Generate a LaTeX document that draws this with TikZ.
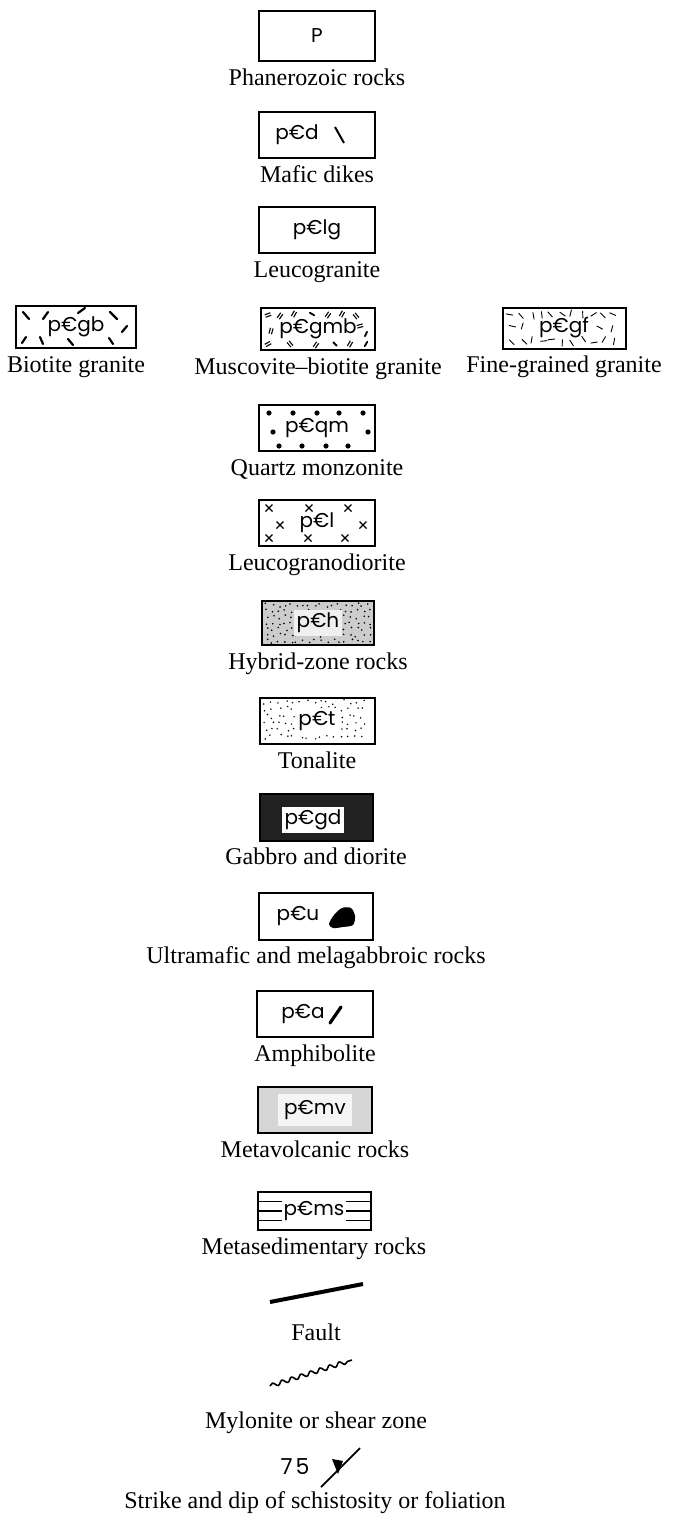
\documentclass[tikz,border=0pt]{standalone}
\usepackage{fontspec}
\setmainfont{Liberation Serif}
\newfontfamily\unitfont{Poppins}
\usepackage{tikz}
\usetikzlibrary{positioning, decorations.pathmorphing}
\definecolor{gabbrogray}{gray}{0.13}
\definecolor{hybridgray}{gray}{0.80}
\definecolor{volcgray}{gray}{0.84}
\tikzset{
  unitbox/.style={draw, line width=1pt, minimum width=58pt, minimum height=23pt,
    inner sep=0pt, font=\unitfont\fontsize{10}{11}\selectfont},
  unittext/.style={inner sep=1.5pt, font=\unitfont\fontsize{10}{11}\selectfont},
  caption/.style={inner sep=0pt, text height=8.5pt, text depth=2.5pt,
    font=\fontsize{12}{14}\selectfont},
  grain/.style={line width=1.1pt, line cap=round},
  flake/.style={line width=0.45pt},
  pair/.style={line width=0.55pt},
  faultline/.style={line width=2pt},
  shearline/.style={line width=0.8pt, decorate,
    decoration={snake, segment length=5pt, amplitude=1pt}}
}

\begin{document}
\begin{tikzpicture}[x=0.5pt, y=-0.5pt, node distance=3pt]
  \useasboundingbox (0,0) rectangle (673,1516);

  % === Phanerozoic and dikes ===
  \node[unitbox, minimum height=25pt] (phan) at (317,36) {P};
  \node[caption, below=of phan] (phancap) {Phanerozoic rocks};

  \node[unitbox] (dike) at (317,135) {p€d\kern20pt};
  \node[caption, below=of dike] (dikecap) {Mafic dikes};
  \draw[line width=1pt] (335,127) -- (344,143);

  \node[unitbox] (lgr) at (317,230) {p€lg};
  \node[caption, below=of lgr] (lgrcap) {Leucogranite};

  % === Granites ===
  \node[unitbox, minimum width=60pt, minimum height=21pt] (bgr) at (76,327) {p€gb};
  \node[caption, below=of bgr] (bgrcap) {Biotite granite};
  \begin{scope}[shift={(bgr.center)}]
    \foreach \ax/\ay/\bx/\by in {-53/-15/-47/-8, -33/-8/-28/-15, 2/-14/9/-19,
        34/-15/41/-8, 46/5/51/-1, -54/16/-50/10, -36/10/-33/17, -8/12/-3/18, 33/11/37/17}
      \draw[grain] (\ax,\ay) -- (\bx,\by);
  \end{scope}

  \node[unitbox, minimum width=57pt, minimum height=21pt] (mbgr) at (318,329) {p€gmb};
  \node[caption, below=of mbgr] (mbgrcap) {Muscovite--biotite granite};
  \begin{scope}[shift={(mbgr.center)}]
    \foreach \px/\py/\pa in {-50/-14/20, -38/-13/55, -24/-15/60, 10/-14/55, 24/-15/60,
        38/-13/-50, -47/2/75, 42/-3/15, -50/15/30, -28/15/-50, -2/16/55, 32/15/60}
      \draw[pair, shift={(\px,\py)}, rotate=\pa] (-3,-1.3) -- (3,-1.3) (-3,1.3) -- (3,1.3);
    \foreach \px/\py/\pa in {-6/-15/-30, 48/5/65, 17/15/-45, 48/15/60}
      \draw[grain, line width=0.9pt, shift={(\px,\py)}, rotate=\pa] (-2.5,0) -- (2.5,0);
  \end{scope}

  \node[unitbox, minimum width=61.5pt, minimum height=20.5pt] (fgr) at (564,328) {p€gf};
  \node[caption, below=of fgr] (fgrcap) {Fine-grained granite};
  \begin{scope}[shift={(fgr.center)}]
    \pgfmathsetseed{23}
    \foreach \gx in {-52,-42,...,52}
      \foreach \gy in {-13,0,13} {
        \pgfmathsetmacro{\fx}{\gx+rnd*5-2.5}
        \pgfmathsetmacro{\fy}{\gy+rnd*4-2}
        \pgfmathsetmacro{\fa}{rnd*180}
        \pgfmathparse{(abs(\fx)<33 && abs(\fy)<9) ? 1 : 0}
        \ifdim\pgfmathresult pt<0.5pt
          \draw[flake, shift={(\fx,\fy)}, rotate=\fa] (-3.5,0) -- (3.5,0);
        \fi
      }
  \end{scope}

  % === Quartz monzonite and leucogranodiorite ===
  \node[unitbox] (qmz) at (317,428) {p€qm};
  \node[caption, below=of qmz] (qmzcap) {Quartz monzonite};
  \begin{scope}[shift={(qmz.center)}]
    \foreach \px/\py in {-48/-15, -24/-15, 0/-15, 22/-15, 46/-15,
        -44/4, 51/4, -38/18, -15/18, 9/18, 31/18}
      \fill (\px,\py) circle (1.3pt);
  \end{scope}

  \node[unitbox] (lgd) at (317,523) {p€l};
  \node[caption, below=of lgd] (lgdcap) {Leucogranodiorite};
  \begin{scope}[shift={(lgd.center)}]
    \foreach \px/\py in {-48/-15, -8/-15, 31/-15, -37/2, 46/2, -48/15, -9/15, 28/15}
      \draw[line width=0.6pt] (\px-3.5,\py-3.5) -- (\px+3.5,\py+3.5)
        (\px-3.5,\py+3.5) -- (\px+3.5,\py-3.5);
  \end{scope}

  % === Hybrid rocks and tonalite ===
  \node[unitbox, fill=hybridgray, minimum width=56pt, minimum height=22pt] (hyb) at (318,623) {};
  \begin{scope}[shift={(hyb.center)}]
    \pgfmathsetseed{5}
    \foreach \gx in {-51,-45,...,51}
      \foreach \gy in {-18,-12,...,18}
        \fill ({\gx+rnd*4-2},{\gy+rnd*4-2}) circle (0.45pt);
  \end{scope}
  \node[unittext, fill=gray!12] (hybtext) at (hyb.center) {p€h};
  \node[caption, below=of hyb] (hybcap) {Hybrid-zone rocks};

  \node[unitbox, minimum width=57.5pt] (ton) at (317,721) {};
  \begin{scope}[shift={(ton.center)}]
    \pgfmathsetseed{9}
    \foreach \gx in {-52,-45,...,52}
      \foreach \gy in {-19,-12,...,19}
        \fill ({\gx+rnd*5-2.5},{\gy+rnd*5-2.5}) circle (0.42pt);
  \end{scope}
  \node[unittext, fill=white] (tontext) at (ton.center) {p€t};
  \node[caption, below=of ton] (toncap) {Tonalite};

  % === Mafic rocks ===
  \node[unitbox, fill=gabbrogray, minimum width=56.5pt, minimum height=23.5pt] (gab) at (316,817) {};
  \node[unittext, fill=white, minimum width=30pt, minimum height=13pt] (gabtext) at (313,820) {p€gd};
  \node[caption, below=of gab] (gabcap) {Gabbro and diorite};

  \node[unitbox, minimum width=57pt, minimum height=23.5pt] (umf) at (316,916) {p€u\kern18pt};
  \node[caption, below=of umf] (umfcap) {Ultramafic and melagabbroic rocks};
  \begin{scope}[shift={(umf.center)}]
    \fill plot[smooth cycle] coordinates {(13,8) (18,-1) (26,-8) (35,-8) (39,0) (37,9) (27,11) (17,12)};
  \end{scope}

  \node[unitbox] (amph) at (315,1014) {p€a\kern12pt};
  \node[caption, below=of amph] (amphcap) {Amphibolite};
  \draw[line width=1.6pt, line cap=round] (330,1023) -- (341,1007);

  \node[unitbox, fill=volcgray, minimum width=57pt] (mvol) at (315,1110) {};
  \node[unittext, fill=gray!8, inner sep=3pt] (mvoltext) at (mvol.center) {p€mv};
  \node[caption, below=of mvol] (mvolcap) {Metavolcanic rocks};

  % === Metasedimentary rocks ===
  \node[unitbox, minimum width=56.5pt, minimum height=19pt] (msed) at (314,1211) {};
  \begin{scope}[shift={(msed.center)}]
    \foreach \ly in {-9.5, 0, 9.5}
      \draw[line width=0.8pt] (-56.5,\ly) -- (56.5,\ly);
  \end{scope}
  \node[unittext, fill=white, inner sep=1pt] (msedtext) at (msed.center) {p€ms};
  \node[caption, below=of msed] (msedcap) {Metasedimentary rocks};

  % === Line symbols ===
  \coordinate (fault1) at (270,1302);
  \coordinate (fault2) at (363,1284);
  \draw[faultline] (fault1) -- (fault2);
  \node[caption] (faultcap) at (316,1334) {Fault};

  \coordinate (shear1) at (270,1386);
  \coordinate (shear2) at (352,1360);
  \draw[shearline] (shear1) -- (shear2);
  \node[caption] (shearcap) at (316,1422) {Mylonite or shear zone};

  \node[unittext, font=\unitfont\fontsize{11}{12}\selectfont] (dipval) at (295,1467) {7\kern1.5pt5};
  \coordinate (strike1) at (321,1487);
  \coordinate (strike2) at (360,1448);
  \draw[line width=0.9pt] (strike1) -- (strike2);
  \fill (332,1459) -- (343,1461) -- (338,1474) -- cycle;
  \node[caption] (strikecap) at (315,1502) {Strike and dip of schistosity or foliation};
\end{tikzpicture}
\end{document}
